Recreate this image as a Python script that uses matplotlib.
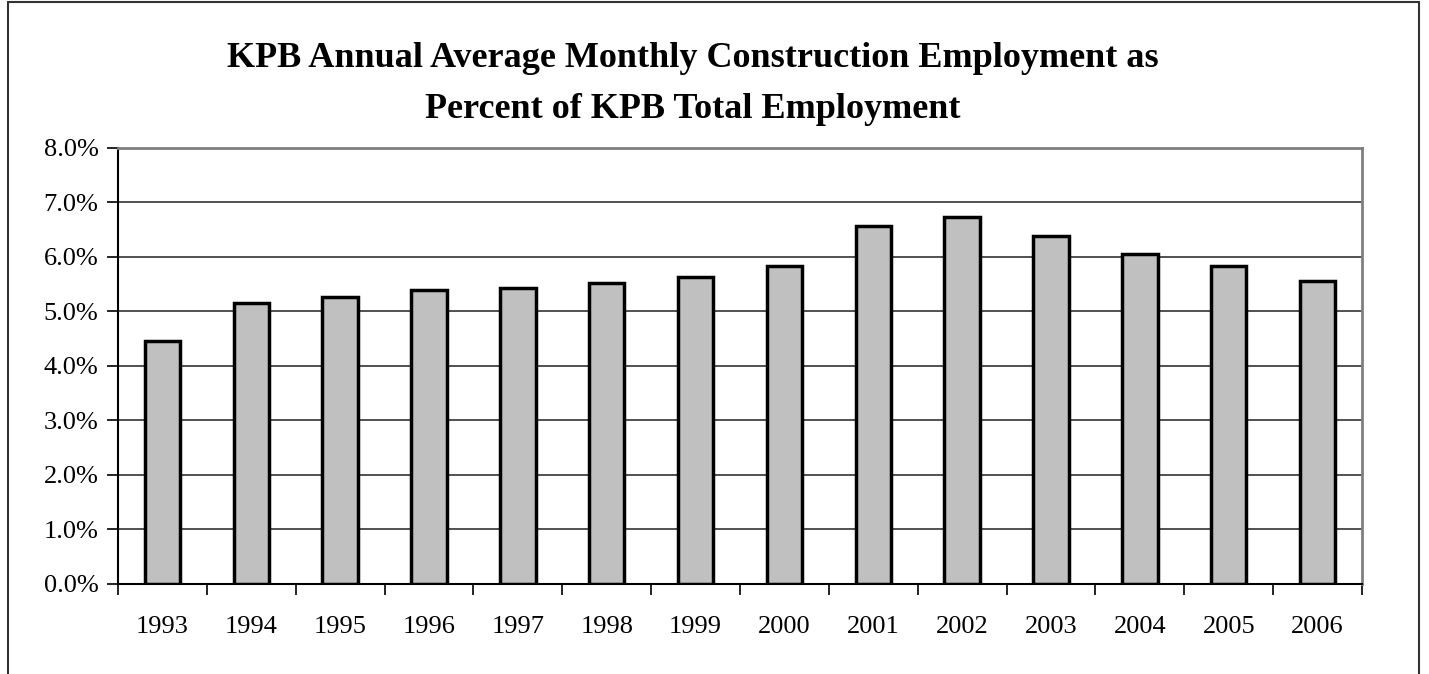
import matplotlib
matplotlib.use("Agg")
import matplotlib.pyplot as plt
import numpy as np
from matplotlib.patches import Rectangle
from matplotlib.ticker import FuncFormatter

years = ["1993", "1994", "1995", "1996", "1997", "1998", "1999",
         "2000", "2001", "2002", "2003", "2004", "2005", "2006"]
pct = [4.46, 5.14, 5.25, 5.39, 5.43, 5.51, 5.62,
       5.82, 6.56, 6.73, 6.37, 6.04, 5.83, 5.55]
title = "KPB Annual Average Monthly Construction Employment as\nPercent of KPB Total Employment"

plt.rcParams["font.family"] = ["Liberation Serif", "DejaVu Serif"]

W, H = 1429, 674
fig = plt.figure(figsize=(W / 100, H / 100), dpi=100)

# outer chart frame (no bottom edge visible)
fig.add_artist(Rectangle((8 / W, -0.1), (1419 - 8) / W, 1.1 - 2 / H,
                         transform=fig.transFigure, fill=False,
                         edgecolor="#333333", linewidth=1.5))

ax = fig.add_axes([118 / W, 1 - 583.7 / H, (1362 - 118) / W, (583.7 - 147.5) / H])

x = np.arange(len(years))
ax.bar(x, pct, width=0.4, color="#c0c0c0", edgecolor="black", linewidth=2.5, zorder=3)

ax.set_xlim(-0.5, len(years) - 0.5)
ax.set_ylim(0, 8)
ax.set_yticks(np.arange(0, 8.01, 1))
ax.yaxis.set_major_formatter(FuncFormatter(lambda v, p: f"{v:.1f}%"))
ax.grid(axis="y", color="#222222", linewidth=1.1, zorder=1)

ax.set_xticks(x)
ax.set_xticklabels(years)
ax.set_xticks(np.arange(-0.5, len(years)), minor=True)
ax.tick_params(axis="x", which="major", length=0, pad=23, labelsize=19)
ax.tick_params(axis="x", which="minor", length=8, width=1.2, direction="out")
ax.tick_params(axis="y", length=8, width=1.2, direction="out", pad=6, labelsize=19)

for s in ["left", "bottom"]:
    ax.spines[s].set_color("black")
    ax.spines[s].set_linewidth(1.5)
for s in ["top", "right"]:
    ax.spines[s].set_color("#808080")
    ax.spines[s].set_linewidth(2)

fig.text(0.485, 1 - 84 / H, title, ha="center", va="center", fontsize=26,
         fontweight="bold", linespacing=1.7)

fig.savefig("out.png", dpi=100)
